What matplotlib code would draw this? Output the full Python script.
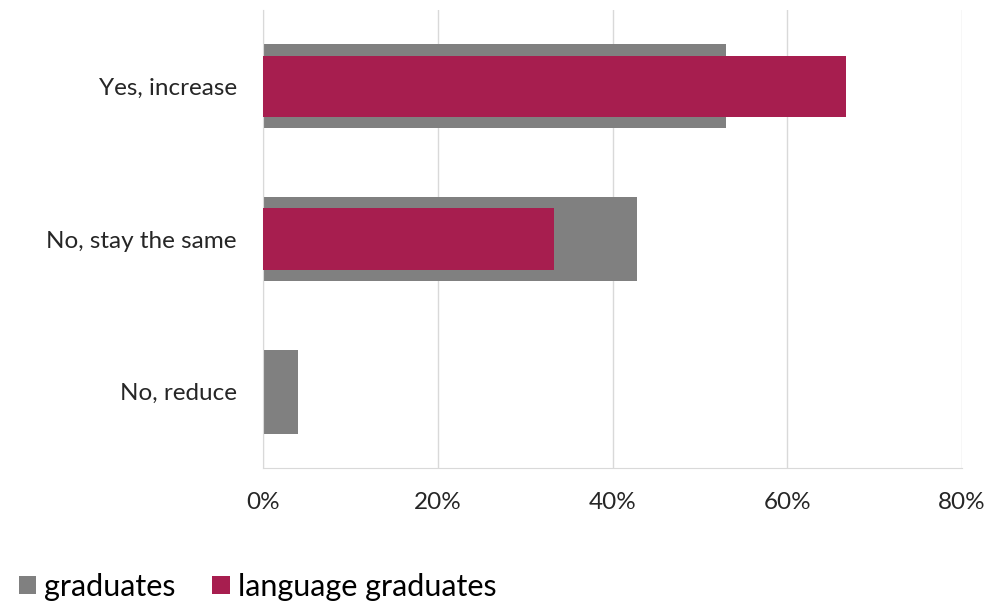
import numpy as np
import matplotlib.pyplot as plt

categories = ['Yes, increase', 'No, stay the same', 'No, reduce']
graduates = [53.0, 42.8, 4.0]
language_graduates = [66.7, 33.3, 0.0]
xticks = [0, 20, 40, 60, 80]

grey = '#808080'
crimson = '#A71E4F'
gridc = '#D9D9D9'

plt.rcParams['font.family'] = ['Lato', 'DejaVu Sans']

fig = plt.figure(figsize=(9.9, 6.04), dpi=100)
ax = fig.add_axes([0.2657, 0.2252, 0.7060, 0.7582])

y = np.arange(len(categories))
ax.barh(y, graduates, height=0.55, color=grey, linewidth=0,
        label='graduates', zorder=2)
ax.barh(y, language_graduates, height=0.40, color=crimson, linewidth=0,
        label='language graduates', zorder=3)

ax.set_xlim(0, 80)
ax.set_ylim(2.5, -0.5)
ax.set_yticks(y)
ax.set_yticklabels(categories)
ax.set_xticks(xticks)
ax.set_xticklabels([f'{v}%' for v in xticks])
ax.tick_params(axis='both', length=0, labelsize=17.5, labelcolor='#262626')
ax.tick_params(axis='x', pad=17)
ax.tick_params(axis='y', pad=19)

ax.grid(axis='x', color=gridc, linewidth=1, zorder=0)
ax.set_axisbelow(True)
for s in ['top', 'right']:
    ax.spines[s].set_visible(False)
for s in ['left', 'bottom']:
    ax.spines[s].set_color(gridc)

fig.legend(loc='lower left', bbox_to_anchor=(-0.009, -0.040), ncol=2, frameon=False,
           fontsize=22, handlelength=0.56, handleheight=0.56, handletextpad=0.28,
           columnspacing=1.2)

fig.savefig('out.png', dpi=100)
